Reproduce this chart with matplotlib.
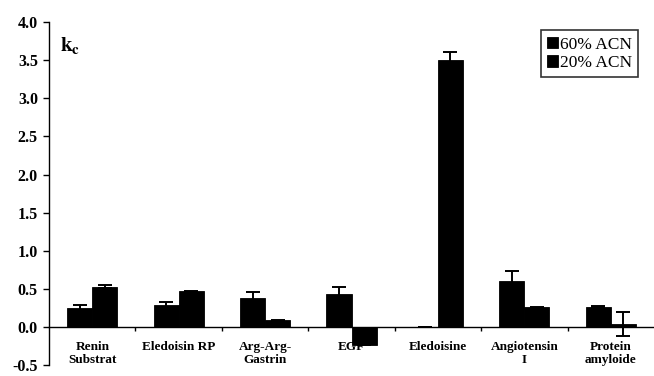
import numpy as np
import matplotlib.pyplot as plt

plt.rcParams['font.family'] = ['Liberation Serif', 'DejaVu Serif']
plt.rcParams['font.weight'] = 'bold'
plt.rcParams['mathtext.fontset'] = 'stix'

# Data
peptides = ["Renin\nSubstrat", "Eledoisin RP", "Arg-Arg-\nGastrin", "EGF",
            "Eledoisine", "Angiotensin\nI", "Protein\namyloide"]
kc_60 = [0.25, 0.29, 0.39, 0.44, 0.01, 0.61, 0.27]
err_60 = [0.04, 0.04, 0.07, 0.09, 0.0, 0.13, 0.01]
kc_20 = [0.53, 0.47, 0.09, -0.23, 3.50, 0.26, 0.04]
err_20 = [0.02, 0.01, 0.01, 0.0, 0.10, 0.01, 0.16]

fig = plt.figure(figsize=(6.54, 3.76), dpi=100)
ax = fig.add_axes([0.075, 0.028, 0.925, 0.914])

x = np.arange(len(peptides))
w = 0.29
ekw = dict(ecolor='black', capsize=5, elinewidth=1.4, capthick=1.4)
ax.bar(x - w / 2, kc_60, w, color='black', edgecolor='black', linewidth=0.6,
       yerr=err_60, error_kw=ekw, label='60% ACN')
ax.bar(x + w / 2, kc_20, w, color='black', edgecolor='black', linewidth=0.6,
       yerr=err_20, error_kw=ekw, label='20% ACN')

ax.set_xlim(-0.5, len(peptides) - 0.5)
ax.set_ylim(-0.5, 4.0)
ax.set_yticks(np.arange(-0.5, 4.01, 0.5))
ax.set_yticklabels(['%.1f' % v for v in np.arange(-0.5, 4.01, 0.5)], fontsize=11.5, fontweight='bold')
ax.tick_params(axis='y', direction='out', length=4, width=1, pad=4)

# category axis crosses at zero, labels kept at the bottom
ax.spines['bottom'].set_position(('data', 0))
ax.spines['top'].set_visible(False)
ax.spines['right'].set_visible(False)
ax.spines['left'].set_linewidth(1)
ax.spines['bottom'].set_linewidth(1)
ax.set_xticks(x[:-1] + 0.5)
ax.set_xticklabels([])
ax.tick_params(axis='x', direction='out', length=3, width=1)

for i, name in enumerate(peptides):
    ax.annotate(name, xy=(i, 0), xytext=(0, -10), textcoords='offset points',
                ha='center', va='top', fontsize=9.5, fontweight='bold', linespacing=1.05)

ax.text(0.018, 0.93, r'$\mathbf{k_c}$', transform=ax.transAxes, fontsize=15,
        ha='left', va='center')

leg = ax.legend(loc='upper right', bbox_to_anchor=(0.98, 0.985), fontsize=12.5,
                frameon=True, fancybox=False, edgecolor='black', handlelength=0.6,
                handleheight=0.6, handletextpad=0.15, borderpad=0.35, labelspacing=0.15,
                borderaxespad=0.2)
leg.get_frame().set_linewidth(1.2)
for t in leg.get_texts():
    t.set_fontweight('normal')

fig.savefig('out.png', dpi=100)
